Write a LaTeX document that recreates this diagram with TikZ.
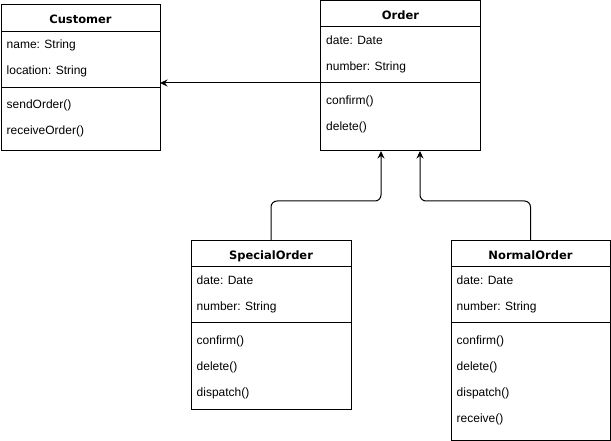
\documentclass[tikz,border=0pt]{standalone}
\usepackage{fontspec}
\setmainfont{Liberation Sans}
\newfontfamily\titlefont{DejaVu Sans}
\usetikzlibrary{arrows.meta}

\tikzset{
  classbox/.style={draw, line width=1pt, anchor=north west, inner sep=0pt, outer sep=0pt},
  rule/.style={line width=1pt},
  member/.style={anchor=base west, inner sep=0pt, font=\fontsize{12}{14}\selectfont},
  classname/.style={anchor=base, inner sep=0pt, font=\titlefont\bfseries\fontsize{11.5}{14}\selectfont},
  link/.style={line width=1pt, -{Stealth[length=7.5pt,width=7pt]}},
}

\begin{document}
\begin{tikzpicture}[x=1pt, y=-1pt]
\useasboundingbox (0,0) rectangle (611,441);

% Customer
\node[classbox, minimum width=159pt, minimum height=146pt] (customer) at (1,5) {};
\node[classname] (customerT) at (80.5,24) {Customer};
\draw[rule] (customer.west |- 0,32) -- (customer.east |- 0,32);
\node[member] (c1) at (6.5,48.5) {name: String};
\node[member] (c2) at (6.5,74.5) {location: String};
\draw[rule] (customer.west |- 0,87.5) -- (customer.east |- 0,87.5);
\node[member] (c3) at (6.5,108.5) {sendOrder()};
\node[member] (c4) at (6.5,134.5) {receiveOrder()};

% Order
\node[classbox, minimum width=160pt, minimum height=150pt] (order) at (320.5,1) {};
\node[classname] (orderT) at (400.5,19.5) {Order};
\draw[rule] (order.west |- 0,26.5) -- (order.east |- 0,26.5);
\node[member] (o1) at (326,44.5) {date: Date};
\node[member] (o2) at (326,70.5) {number: String};
\draw[rule] (order.west |- 0,82.5) -- (order.east |- 0,82.5);
\node[member] (o3) at (326,104.5) {confirm()};
\node[member] (o4) at (326,130.5) {delete()};

% SpecialOrder
\node[classbox, minimum width=160pt, minimum height=169pt] (special) at (191,240) {};
\node[classname] (specialT) at (271,259.5) {SpecialOrder};
\draw[rule] (special.west |- 0,266.5) -- (special.east |- 0,266.5);
\node[member] (s1) at (196.5,284.5) {date: Date};
\node[member] (s2) at (196.5,310.5) {number: String};
\draw[rule] (special.west |- 0,322.5) -- (special.east |- 0,322.5);
\node[member] (s3) at (196.5,344.5) {confirm()};
\node[member] (s4) at (196.5,370.5) {delete()};
\node[member] (s5) at (196.5,396.5) {dispatch()};

% NormalOrder
\node[classbox, minimum width=159pt, minimum height=200pt] (normal) at (451,240) {};
\node[classname] (normalT) at (530.5,259.5) {NormalOrder};
\draw[rule] (normal.west |- 0,266.5) -- (normal.east |- 0,266.5);
\node[member] (n1) at (456.5,284.5) {date: Date};
\node[member] (n2) at (456.5,310.5) {number: String};
\draw[rule] (normal.west |- 0,322.5) -- (normal.east |- 0,322.5);
\node[member] (n3) at (456.5,344.5) {confirm()};
\node[member] (n4) at (456.5,370.5) {delete()};
\node[member] (n5) at (456.5,396.5) {dispatch()};
\node[member] (n6) at (456.5,422.5) {receive()};

% connectors
\draw[link] (order.west |- 0,83) -- (customer.east |- 0,83);
\draw[link, rounded corners=6pt] (special.north) -- (special.north |- 0,201) -| ([xshift=60.5pt]order.south west);
\draw[link, rounded corners=6pt] (normal.north) -- (normal.north |- 0,201) -| ([xshift=99.5pt]order.south west);
\end{tikzpicture}
\end{document}
